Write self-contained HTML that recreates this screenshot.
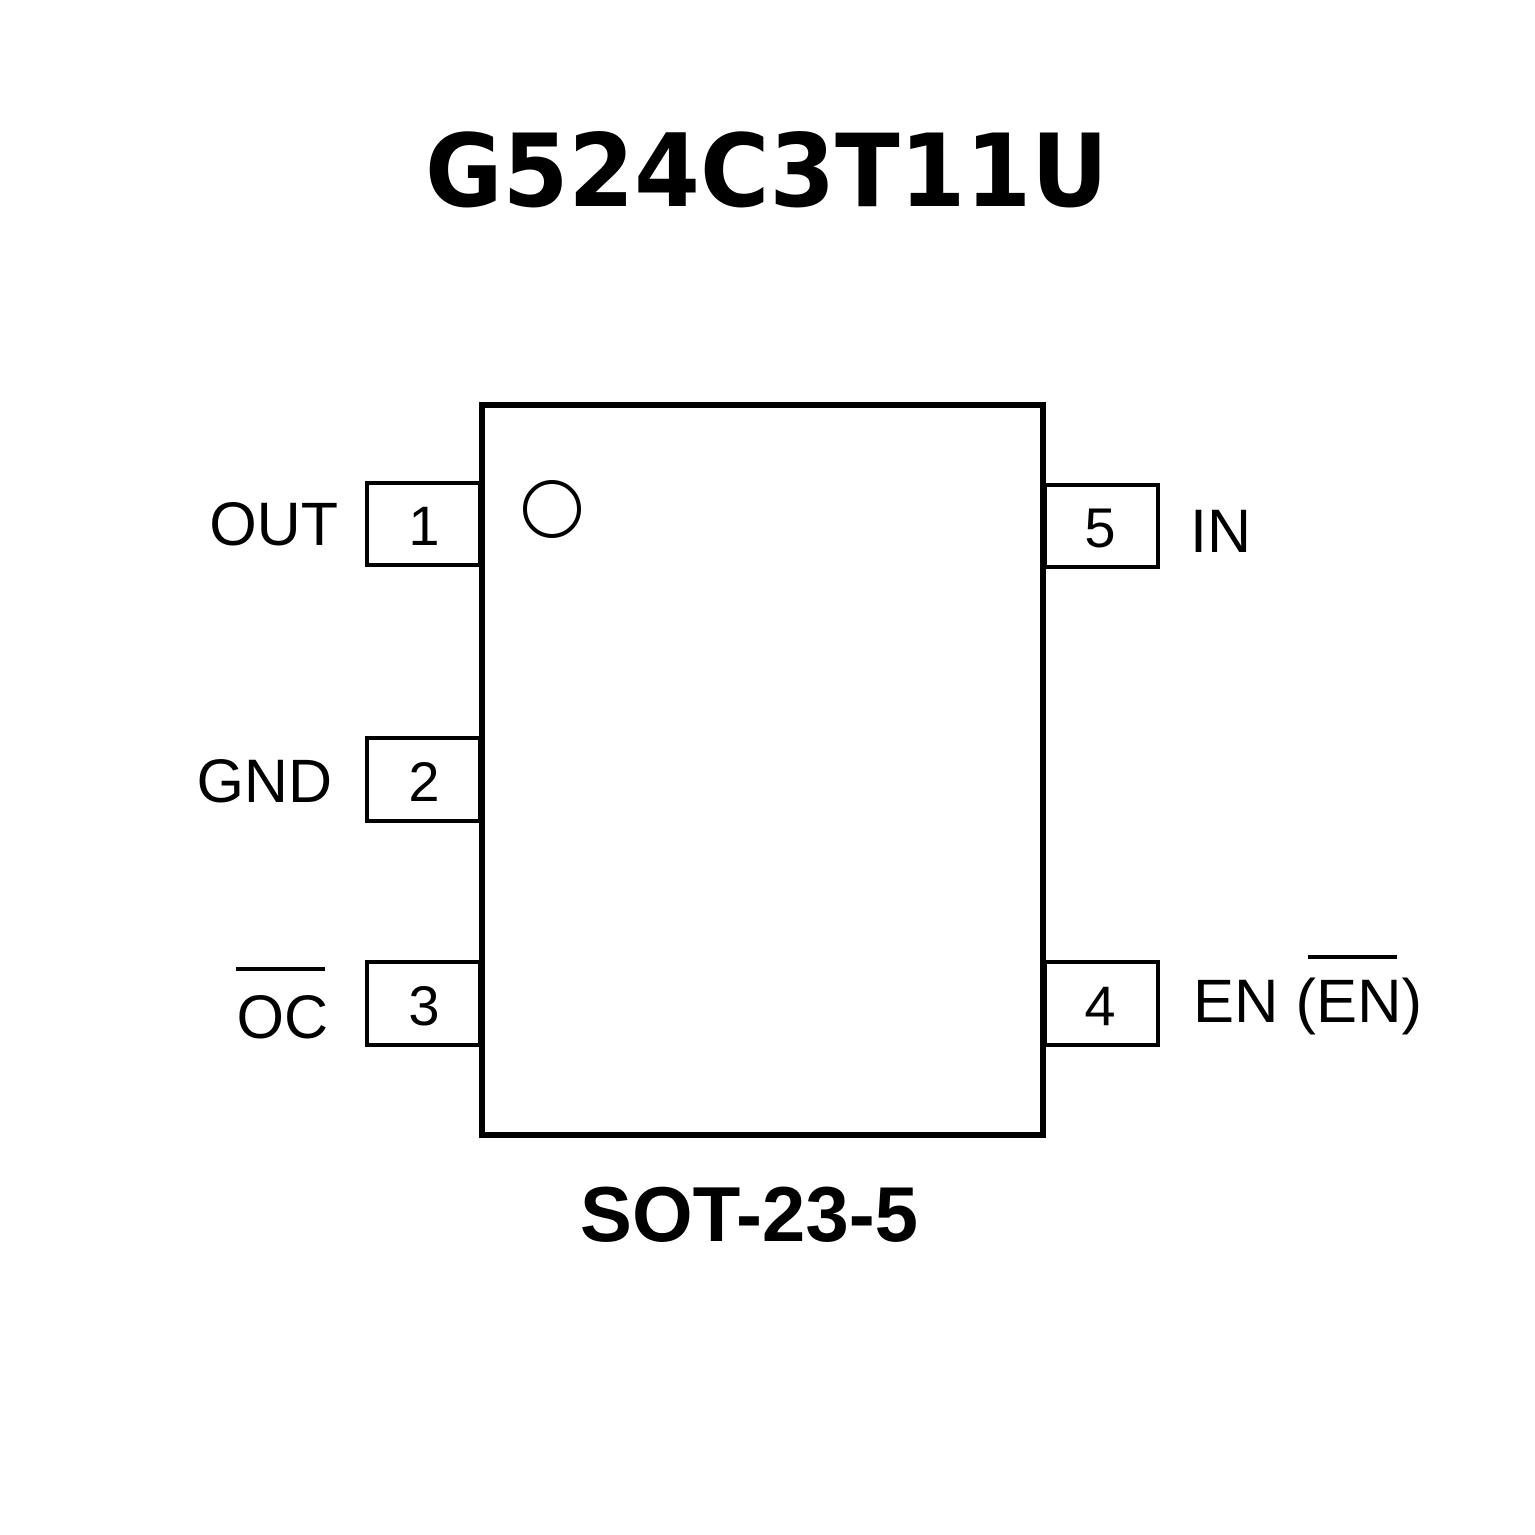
<!DOCTYPE html>
<html><head><meta charset="utf-8"><style>html,body{margin:0;padding:0;background:#fff}svg{display:block}</style></head>
<body>
<svg width="1535" height="1535" viewBox="0 0 1535 1535" xmlns="http://www.w3.org/2000/svg">
<rect width="1535" height="1535" fill="#fff"/>
<text x="425" y="206" font-family="DejaVu Sans, Liberation Sans, sans-serif" font-weight="bold" font-size="101" textLength="683" lengthAdjust="spacingAndGlyphs">G524C3T11U</text>
<rect x="482" y="405" width="561" height="730" fill="none" stroke="#000" stroke-width="6"/>
<circle cx="552" cy="509" r="27" fill="none" stroke="#000" stroke-width="4"/>
<g fill="none" stroke="#000" stroke-width="4">
<rect x="367" y="483" width="113" height="82"/>
<rect x="367" y="738" width="113" height="83"/>
<rect x="367" y="962" width="113" height="83"/>
<rect x="1045" y="485" width="113" height="82"/>
<rect x="1045" y="962" width="113" height="83"/>
</g>
<g font-family="Liberation Sans, sans-serif" font-size="56" text-anchor="middle">
<text x="424" y="545">1</text>
<text x="424" y="801">2</text>
<text x="424" y="1025">3</text>
<text x="1100" y="547">5</text>
<text x="1100" y="1025">4</text>
</g>
<g font-family="Liberation Sans, sans-serif" font-size="61">
<text x="338" y="545" text-anchor="end">OUT</text>
<text x="332" y="802" text-anchor="end">GND</text>
<text x="328" y="1038" text-anchor="end">OC</text>
<text x="1190" y="552">IN</text>
<text x="1193" y="1022" textLength="229" lengthAdjust="spacingAndGlyphs">EN (EN)</text>
</g>
<line x1="236" y1="969" x2="325" y2="969" stroke="#000" stroke-width="4"/>
<line x1="1308" y1="957" x2="1397" y2="957" stroke="#000" stroke-width="4"/>
<text x="749" y="1241" text-anchor="middle" font-family="Liberation Sans, sans-serif" font-weight="bold" font-size="78">SOT-23-5</text>
</svg>
</body></html>
